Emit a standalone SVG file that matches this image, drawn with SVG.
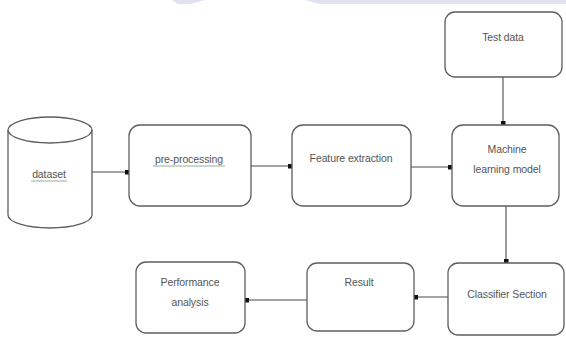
<svg xmlns="http://www.w3.org/2000/svg" width="566" height="337" viewBox="0 0 566 337">
<style>
.box{fill:#fff;stroke:#5e5e5e;stroke-width:1.3}
.lbl{font-family:"Liberation Sans",Arial,sans-serif;font-size:10.5px;fill:#555;text-anchor:middle;letter-spacing:-0.1px}
.ln{fill:none;stroke:#4a4a4a;stroke-width:1.1}
.ul{stroke:#7a9a7a;stroke-width:0.8;fill:none}
</style>
<defs>
<marker id="dot" viewBox="0 0 6 6" refX="5" refY="3" markerWidth="5" markerHeight="5" markerUnits="userSpaceOnUse" orient="auto">
<rect x="0" y="0" width="6" height="6" fill="#111"/>
</marker>
</defs>
<rect x="0" y="0" width="566" height="337" fill="#fff"/>
<polygon points="172,0 205,0 190,4 178,4" fill="#d6daec" opacity="0.8"/>
<polygon points="305,0 566,0 566,4 320,4" fill="#d6daec" opacity="0.8"/>
<g id="connectors">
<line class="ln" x1="92" y1="172" x2="129" y2="172" marker-end="url(#dot)"/>
<line class="ln" x1="251" y1="166" x2="292" y2="166" marker-end="url(#dot)"/>
<line class="ln" x1="411" y1="167" x2="452" y2="167" marker-end="url(#dot)"/>
<line class="ln" x1="503" y1="77" x2="503" y2="125" marker-end="url(#dot)"/>
<line class="ln" x1="506" y1="206" x2="506" y2="263" marker-end="url(#dot)"/>
<line class="ln" x1="448" y1="297" x2="414" y2="297" marker-end="url(#dot)"/>
<line class="ln" x1="307" y1="300" x2="245" y2="300" marker-end="url(#dot)"/>
</g>
<g id="dataset">
<path class="box" d="M8,130 L8,215 A42,13 0 0 0 92,215 L92,130"/>
<ellipse class="box" cx="50" cy="130" rx="42" ry="13"/>
<text class="lbl" x="49" y="178">dataset</text>
<line class="ul" x1="31" y1="181" x2="67" y2="181"/>
</g>
<g id="preprocessing">
<rect class="box" x="129" y="125" width="122" height="81" rx="11"/>
<text class="lbl" x="189" y="163">pre-processing</text>
<line class="ul" x1="153" y1="166" x2="225" y2="166"/>
</g>
<g id="feature">
<rect class="box" x="292" y="125" width="119" height="81" rx="11"/>
<text class="lbl" x="351" y="162">Feature extraction</text>
</g>
<g id="testdata">
<rect class="box" x="445" y="12" width="117" height="65" rx="10"/>
<text class="lbl" x="503" y="41">Test data</text>
</g>
<g id="mlmodel">
<rect class="box" x="452" y="125" width="107" height="81" rx="11"/>
<text class="lbl" x="507" y="153">Machine</text>
<text class="lbl" x="507" y="173">learning model</text>
</g>
<g id="classifier">
<rect class="box" x="448" y="263" width="116" height="72" rx="10"/>
<text class="lbl" x="507" y="298">Classifier Section</text>
</g>
<g id="result">
<rect class="box" x="307" y="263" width="107" height="68" rx="10"/>
<text class="lbl" x="359" y="286">Result</text>
</g>
<g id="performance">
<rect class="box" x="136" y="262" width="109" height="71" rx="10"/>
<text class="lbl" x="190" y="286">Performance</text>
<text class="lbl" x="190" y="306">analysis</text>
</g>
</svg>
